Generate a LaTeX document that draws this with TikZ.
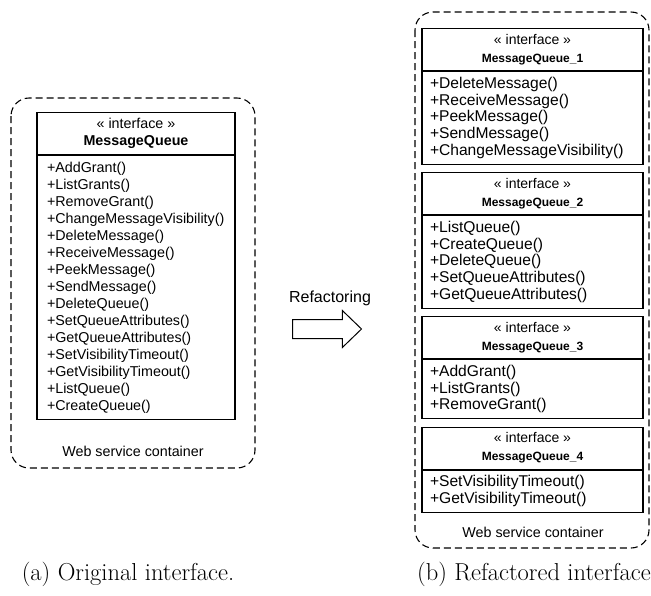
\documentclass[tikz,border=0pt]{standalone}
\usepackage{fontspec}
\newfontfamily\arial{Liberation Sans}
\newcommand\ifacename{\arial\bfseries\fontsize{12}{18}\selectfont}
\usetikzlibrary{shapes.arrows}
\tikzset{
  x=1pt, y=-1pt,
  container/.style={draw, line width=1.1pt, dash pattern=on 7pt off 4pt, rounded corners=18pt},
  boxline/.style={draw, line width=1.1pt, anchor=north, inner ysep=0pt},
  % left class box
  lhdr/.style={boxline, align=center, inner xsep=0pt, minimum width=198pt, minimum height=42pt,
               font=\arial\fontsize{14.3}{17}\selectfont},
  lbody/.style={boxline, align=left, inner xsep=10pt, text width=178pt,
                font=\arial\fontsize{14.3}{17}\selectfont},
  % right class boxes
  rhdr/.style={boxline, align=center, inner xsep=0pt, minimum width=221pt, minimum height=42pt,
               font=\arial\fontsize{14}{18}\selectfont},
  rbody/.style={boxline, align=left, inner xsep=8pt, text width=205pt,
                font=\arial\fontsize{15.6}{16.75}\selectfont},
  lbl/.style={font=\arial\fontsize{14.3}{17}\selectfont, inner sep=0pt},
  captext/.style={font=\fontsize{24.5}{28}\selectfont, inner sep=0pt},
}
\begin{document}
\begin{tikzpicture}
\useasboundingbox (0,0) rectangle (651,595);

% ---------- original interface ----------
\draw[container] (11,98) rectangle (255,468);
\node[lhdr] (mq) at (136,112) {« interface »\\\textbf{MessageQueue}};
\node[lbody, minimum height=264pt] (mqb) at (mq.south) {+AddGrant()\\+ListGrants()\\+RemoveGrant()\\+ChangeMessageVisibility()\\+DeleteMessage()\\+ReceiveMessage()\\+PeekMessage()\\+SendMessage()\\+DeleteQueue()\\+SetQueueAttributes()\\+GetQueueAttributes()\\+SetVisibilityTimeout()\\+GetVisibilityTimeout()\\+ListQueue()\\+CreateQueue()};
\node[lbl] (wsa) at (133,451) {Web service container};

% ---------- refactoring arrow ----------
\node[lbl, font=\arial\fontsize{16}{18}\selectfont] (rf) at (330,298) {Refactoring};
\node[single arrow, draw, line width=1pt, inner xsep=0pt, inner ysep=9pt, minimum height=69pt,
      single arrow head extend=9pt, single arrow tip angle=88, anchor=west] (arr) at (292,329) {};

% ---------- refactored interfaces ----------
\draw[container] (415,12) rectangle (649,548);
\node[rhdr] (q1) at (532.5,28) {« interface »\\{\ifacename MessageQueue\_1}};
\node[rbody, minimum height=92.5pt] (q1b) at (q1.south) {+DeleteMessage()\\+ReceiveMessage()\\+PeekMessage()\\+SendMessage()\\+ChangeMessageVisibility()};

\node[rhdr] (q2) at (532.5,172) {« interface »\\{\ifacename MessageQueue\_2}};
\node[rbody, minimum height=92.5pt] (q2b) at (q2.south) {+ListQueue()\\+CreateQueue()\\+DeleteQueue()\\+SetQueueAttributes()\\+GetQueueAttributes()};

\node[rhdr] (q3) at (532.5,316) {« interface »\\{\ifacename MessageQueue\_3}};
\node[rbody, minimum height=59pt] (q3b) at (q3.south) {+AddGrant()\\+ListGrants()\\+RemoveGrant()};

\node[rhdr] (q4) at (532.5,426.5) {« interface »\\{\ifacename MessageQueue\_4}};
\node[rbody, minimum height=42.25pt] (q4b) at (q4.south) {+SetVisibilityTimeout()\\+GetVisibilityTimeout()};
\node[lbl] (wsb) at (533,532) {Web service container};

% ---------- captions ----------
\node[captext] (ca) at (128,574) {(a) Original interface.};
\node[captext, anchor=west] (cb) at (417,574) {(b) Refactored interface};
\end{tikzpicture}
\end{document}
